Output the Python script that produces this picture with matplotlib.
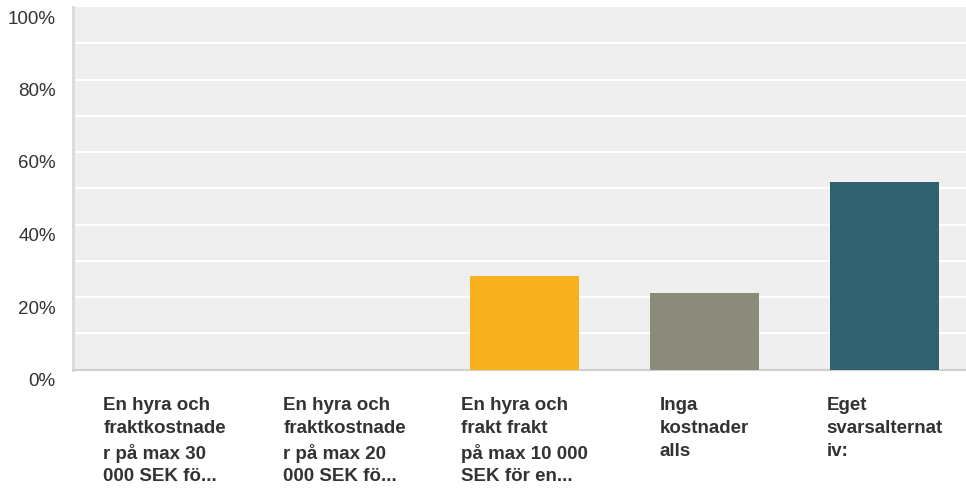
import matplotlib
matplotlib.use('Agg')
import matplotlib.pyplot as plt
import matplotlib.transforms as mtransforms

# data
categories = [
    'En hyra och\nfraktkostnade\nr på max 30\n000 SEK fö...',
    'En hyra och\nfraktkostnade\nr på max 20\n000 SEK fö...',
    'En hyra och\nfrakt frakt\npå max 10 000\nSEK för en...',
    'Inga\nkostnader\nalls',
    'Eget\nsvarsalternat\niv:',
]
values = [0, 0, 25.8, 21.1, 51.7]
bar_colors = ['#f7b11e', '#f7b11e', '#f7b11e', '#8a8b7b', '#2f616f']
yticks = [0, 20, 40, 60, 80, 100]
ytick_labels = ['0%', '20%', '40%', '60%', '80%', '100%']

W, H = 966, 488
plt.rcParams['font.family'] = ['Liberation Sans', 'DejaVu Sans']
fig = plt.figure(figsize=(W / 100, H / 100), dpi=100)

# axes placed in pixel coords
left_px, right_px, top_px, bottom_px = 72.5, 966, 7, 369.5
ax = fig.add_axes([left_px / W, 1 - bottom_px / H,
                   (right_px - left_px) / W, (bottom_px - top_px) / H])
ax.set_facecolor('#efefef')

x = list(range(len(categories)))
ax.bar(x, values, width=0.606, color=bar_colors, zorder=3)

ax.set_xlim((left_px - 164.5) / 180, (right_px - 164.5) / 180)
ax.set_ylim(0, 100)

# white grid every 10%
for g in range(10, 100, 10):
    ax.axhline(g, color='white', lw=1.6, zorder=1)

ax.set_xticks([])
ax.set_yticks(yticks)
ax.set_yticklabels(ytick_labels, fontsize=13.5, color='#333333')
ax.tick_params(axis='y', length=0, pad=12)
shift = mtransforms.ScaledTranslation(0, -10 / 100, fig.dpi_scale_trans)
for lab in ax.get_yticklabels():
    lab.set_transform(lab.get_transform() + shift)

for side in ['top', 'right']:
    ax.spines[side].set_visible(False)
ax.spines['left'].set_color('#dcdcdc')
ax.spines['left'].set_linewidth(2.2)
ax.spines['bottom'].set_color('#d0d0d0')
ax.spines['bottom'].set_linewidth(1.5)

# category labels, block centred under the bar, lines left aligned
trans = mtransforms.blended_transform_factory(ax.transData, fig.transFigure)
for i, lab in enumerate(categories):
    ax.text(i, 1 - 397 / H, lab, transform=trans, ha='center', va='top',
            multialignment='left', fontsize=13.5, fontweight='bold',
            color='#333333', linespacing=1.45, clip_on=False)

fig.savefig('out.png', dpi=100)
